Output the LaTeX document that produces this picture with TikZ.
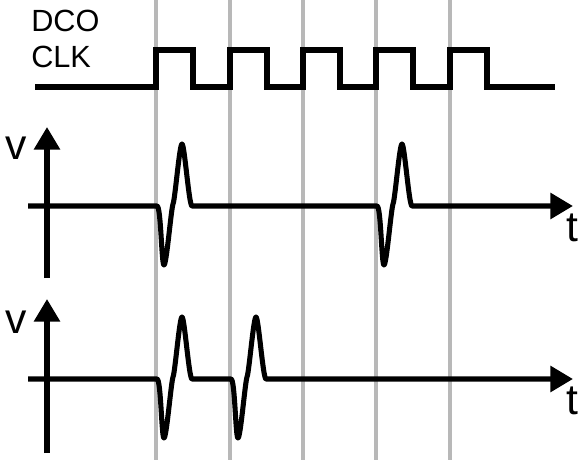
\documentclass[tikz,border=0pt]{standalone}
\usepackage{fontspec}
\setmainfont{Liberation Sans}
\usetikzlibrary{arrows.meta}

\definecolor{edgegray}{rgb}{0.72,0.72,0.72}

% one spike: dip, small kink, peak, back to the baseline
\newcommand{\spike}{.. controls +(4,0) and +(-2.5,0) .. ++(7,59)
  .. controls +(2.5,0) and +(-2,6) .. ++(9,-61)
  .. controls +(2,-4) and +(-2.5,0) .. ++(9,-60)
  .. controls +(2.5,0) and +(-3,0) .. ++(10,62)}

\begin{document}
\begin{tikzpicture}[x=0.75pt,y=-0.75pt,
  edgeline/.style={edgegray,line width=3.3pt},
  signal/.style={black,line width=3.8pt,line join=miter},
  axis/.style={black,line width=3.8pt,line join=round,-{Triangle[length=17pt,width=19pt]}},
  sigtext/.style={anchor=base west,inner sep=0pt,font=\fontsize{23pt}{23pt}\selectfont},
  axtext/.style={anchor=base west,inner sep=0pt,font=\fontsize{32pt}{32pt}\selectfont}]
\useasboundingbox (0,0) rectangle (579,460);

% clock edges
\foreach \g in {156,230,303,376,450}
  \draw[edgeline] (\g,0) -- (\g,460);

% DCO clock
\node[sigtext] (dco) at (31,32) {DCO};
\node[sigtext] (clk) at (31,68) {CLK};
\draw[signal] (35,87) foreach \e in {156,230,303,376,450}
  { -- (\e,87) -- (\e,50) -- ({\e+37},50) -- ({\e+37},87) } -- (555,87);

% upper trace
\draw[axis] (47,278) -- (47,127);
\draw[axis] (28,206) -- (157,206) \spike -- (377,206) \spike -- (573,206);
\node[axtext] (vA) at (5,160) {v};
\node[axtext] (tA) at (566,241) {t};

% lower trace
\draw[axis] (47,453) -- (47,299);
\draw[axis] (28,379) -- (157,379) \spike -- (231,379) \spike -- (573,379);
\node[axtext] (vB) at (5,333) {v};
\node[axtext] (tB) at (566,414) {t};
\end{tikzpicture}
\end{document}
